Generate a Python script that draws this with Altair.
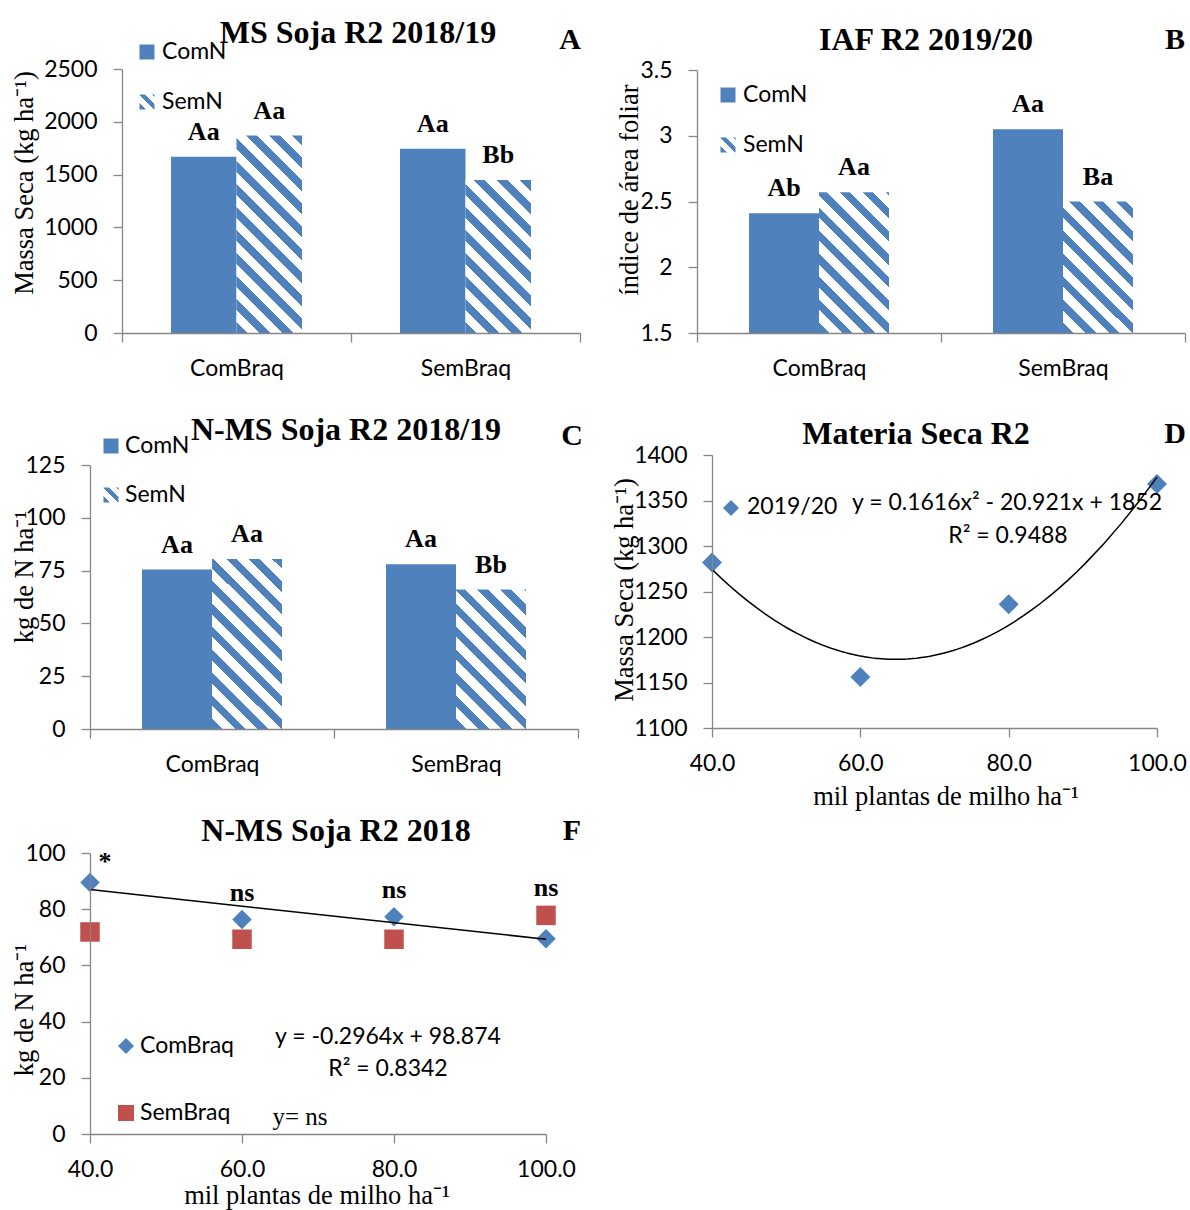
import altair as alt
import pandas as pd

BLUE = "#4F81BD"
RED = "#C0504D"
GRAY = "#868686"
SANS = "Lato"
SERIF = "Liberation Serif"
W, H = 1190, 1210

# ---------------- data ----------------
bar_categories = ["ComBraq", "SemBraq"]
series_names = ["ComN", "SemN"]

a_comn = [1670, 1745]
a_semn = [1870, 1450]
a_lab_comn = ["Aa", "Aa"]
a_lab_semn = ["Aa", "Bb"]
a_ticks = [0, 500, 1000, 1500, 2000, 2500]

b_comn = [2.41, 3.05]
b_semn = [2.57, 2.50]
b_lab_comn = ["Ab", "Aa"]
b_lab_semn = ["Aa", "Ba"]
b_ticks = [1.5, 2, 2.5, 3, 3.5]

c_comn = [75.5, 78.0]
c_semn = [80.5, 66.0]
c_lab_comn = ["Aa", "Aa"]
c_lab_semn = ["Aa", "Bb"]
c_ticks = [0, 25, 50, 75, 100, 125]

d_density = [40, 60, 80, 100]
d_mass = [1282, 1156, 1236, 1368]
d_ticks = [1100, 1150, 1200, 1250, 1300, 1350, 1400]

f_density = [40, 60, 80, 100]
f_combraq = [89.5, 76.3, 77.3, 69.5]
f_sembraq = [71.9, 69.3, 69.3, 77.8]
f_sig = ["*", "ns", "ns", "ns"]
f_ticks = [0, 20, 40, 60, 80, 100]
x_ticks = [40, 60, 80, 100]

ONE = alt.Data(values=[{"k": 1}])

TITLE = 32
LETTER = 30
AXT = 26.5
TICK = 23
LEG = 23
LAB = 26


# ---------------- helpers ----------------
def hatch(w, h, period=23.0, share=0.47):
    """Diagonal '\\' stripes at 45 degrees for a box of w x h pixels."""
    t = (w + h) / (w * w + h * h)
    n = (w + h) / period
    stops = []
    k = 0
    while k < n:
        a = round(k / n, 5)
        b = round(min((k + share) / n, 1.0), 5)
        c = round(min((k + 1) / n, 1.0), 5)
        stops += [{"offset": a, "color": BLUE}, {"offset": b, "color": BLUE}]
        if b < 1:
            stops += [{"offset": b, "color": "#ffffff"}, {"offset": c, "color": "#ffffff"}]
        k += 1
    return {"gradient": "linear", "x1": 0, "y1": 1,
            "x2": round(t * w, 5), "y2": round(1 - t * h, 5), "stops": stops}


def text_at(text, x, y, size, font=SANS, weight="normal", align="left", angle=0):
    return alt.Chart(ONE).mark_text(
        text=text, font=font, fontSize=size, fontWeight=weight, align=align,
        baseline="middle", angle=angle, color="black"
    ).encode(x=alt.value(x), y=alt.value(y))


def symbol_at(x, y, shape, size, fill):
    return alt.Chart(ONE).mark_point(
        shape=shape, size=size, filled=True, fill=fill, opacity=1, strokeWidth=0
    ).encode(x=alt.value(x), y=alt.value(y))


def y_axis(values, left):
    return alt.Axis(values=values, labelExpr="format(datum.value, '~g')", title=None,
                    orient="left", offset=-left, grid=False, zindex=1,
                    domainColor=GRAY, domainWidth=1.3, tickColor=GRAY, tickWidth=1.3,
                    tickSize=9, labelFont=SANS, labelFontSize=TICK, labelColor="black",
                    labelPadding=16, labelOverlap=False, labelFlush=False)


def x_band_axis(bottom):
    return alt.Axis(title=None, orient="bottom", offset=bottom - H, labelAngle=0,
                    tickBand="extent", grid=False, zindex=1,
                    domainColor=GRAY, domainWidth=1.3, tickColor=GRAY, tickWidth=1.3,
                    tickSize=9, labelFont=SANS, labelFontSize=TICK, labelColor="black",
                    labelPadding=15)


def x_lin_axis(bottom):
    return alt.Axis(values=x_ticks, format=".1f", title=None, orient="bottom",
                    offset=bottom - H, grid=False, zindex=1,
                    domainColor=GRAY, domainWidth=1.3, tickColor=GRAY, tickWidth=1.3,
                    tickSize=9, labelFont=SANS, labelFontSize=TICK, labelColor="black",
                    labelPadding=15, labelFlush=False, labelOverlap=False)


def bar_panel(comn, semn, lab_comn, lab_semn, ticks, xr, yr, bar_w, annotations):
    """xr = [left, right] pixels, yr = [bottom, top] pixels of the plot area."""
    ymin, ymax = ticks[0], ticks[-1]
    df = pd.DataFrame({
        "cat": bar_categories * 2,
        "trt": [series_names[0]] * 2 + [series_names[1]] * 2,
        "val": list(comn) + list(semn),
        "lab": list(lab_comn) + list(lab_semn),
    })
    band = (xr[1] - xr[0]) / len(bar_categories)
    pad = (band / bar_w - 2) / 2
    base = alt.Chart(df).encode(
        x=alt.X("cat:N", sort=bar_categories,
                scale=alt.Scale(range=xr, paddingInner=0, paddingOuter=0),
                axis=x_band_axis(yr[0])),
        xOffset=alt.XOffset("trt:N", sort=series_names,
                            scale=alt.Scale(paddingInner=0, paddingOuter=pad)),
        y=alt.Y("val:Q", scale=alt.Scale(domain=[ymin, ymax], range=yr, nice=False, zero=False),
                axis=y_axis(ticks, xr[0])),
    )
    layers = [base.transform_filter(alt.datum.trt == series_names[0])
              .mark_bar(color=BLUE).encode(y2=alt.datum(ymin))]
    for cat, v in zip(bar_categories, semn):
        hp = (v - ymin) / (ymax - ymin) * (yr[0] - yr[1])
        layers.append(
            base.transform_filter((alt.datum.trt == series_names[1]) & (alt.datum.cat == cat))
            .mark_bar(fill=hatch(bar_w, hp)).encode(y2=alt.datum(ymin))
        )
    layers.append(base.mark_text(font=SERIF, fontSize=LAB, fontWeight="bold", dy=-25,
                                 baseline="middle", color="black").encode(text="lab:N"))
    layers += annotations
    return alt.layer(*layers)


# white page (covers any frame line at the canvas edge)
page = alt.Chart(ONE).mark_rect(fill="white", stroke="white", strokeWidth=6).encode(
    x=alt.value(0), x2=alt.value(W), y=alt.value(0), y2=alt.value(H))

# ---------------- panel A ----------------
panel_a = bar_panel(
    a_comn, a_semn, a_lab_comn, a_lab_semn, a_ticks, [122, 580], [333, 69], 65.5,
    [
        text_at("MS Soja R2 2018/19", 358, 33, TITLE, SERIF, "bold", "center"),
        text_at("A", 570, 40, LETTER, SERIF, "bold", "center"),
        symbol_at(147, 52, "square", 225, BLUE),
        text_at("ComN", 162, 52, LEG),
        symbol_at(147, 102, "square", 225, hatch(15, 15, 14)),
        text_at("SemN", 162, 102, LEG),
        text_at("Massa Seca (kg ha\u207b\u00b9)", 25, 183, AXT, SERIF, "normal", "center", 270),
    ],
)

# ---------------- panel B ----------------
panel_b = bar_panel(
    b_comn, b_semn, b_lab_comn, b_lab_semn, b_ticks, [697, 1185], [333, 70], 70,
    [
        text_at("IAF R2 2019/20", 926, 40, TITLE, SERIF, "bold", "center"),
        text_at("B", 1175, 40, LETTER, SERIF, "bold", "center"),
        symbol_at(728, 95, "square", 225, BLUE),
        text_at("ComN", 743, 95, LEG),
        symbol_at(728, 145, "square", 225, hatch(15, 15, 14)),
        text_at("SemN", 743, 145, LEG),
        text_at("índice de área foliar", 630, 190, AXT, SERIF, "normal", "center", 270),
    ],
)

# ---------------- panel C ----------------
panel_c = bar_panel(
    c_comn, c_semn, c_lab_comn, c_lab_semn, c_ticks, [90, 578], [729, 465], 70,
    [
        text_at("N-MS Soja R2 2018/19", 346, 430, TITLE, SERIF, "bold", "center"),
        text_at("C", 572, 436, LETTER, SERIF, "bold", "center"),
        symbol_at(111, 446, "square", 225, BLUE),
        text_at("ComN", 125, 446, LEG),
        symbol_at(111, 495, "square", 225, hatch(15, 15, 14)),
        text_at("SemN", 125, 495, LEG),
        text_at("kg de N ha\u207b\u00b9", 25, 577, AXT, SERIF, "normal", "center", 270),
    ],
)

# ---------------- panel D ----------------
d_df = pd.DataFrame({"x": d_density, "y": d_mass})
d_x = alt.X("x:Q", scale=alt.Scale(domain=[40, 100], range=[712, 1157], nice=False, zero=False),
            axis=x_lin_axis(728))
d_y = alt.Y("y:Q", scale=alt.Scale(domain=[d_ticks[0], d_ticks[-1]], range=[728, 455],
                                   nice=False, zero=False),
            axis=y_axis(d_ticks, 712))
d_points = alt.Chart(d_df).mark_point(shape="diamond", filled=True, size=400, color=BLUE,
                                      opacity=1).encode(x=d_x, y=d_y)
d_fit = alt.Chart(d_df).transform_regression("x", "y", method="poly", order=2).mark_line(
    color="black", strokeWidth=1.5).encode(x=d_x, y=d_y)
panel_d = alt.layer(
    d_points, d_fit,
    text_at("Materia Seca R2", 916, 434, TITLE, SERIF, "bold", "center"),
    text_at("D", 1175, 434, LETTER, SERIF, "bold", "center"),
    symbol_at(731, 508, "diamond", 256, BLUE),
    text_at("2019/20", 747, 507, LEG),
    text_at("y = 0.1616x\u00b2 - 20.921x + 1852", 1007, 503, LEG, SANS, "normal", "center"),
    text_at("R\u00b2 = 0.9488", 1008, 536, LEG, SANS, "normal", "center"),
    text_at("Massa Seca (kg ha\u207b\u00b9)", 625, 590, AXT, SERIF, "normal", "center", 270),
    text_at("mil plantas de milho ha\u207b\u00b9", 946, 797, AXT, SERIF, "normal", "center"),
)

# ---------------- panel F ----------------
f_df = pd.DataFrame({
    "x": f_density * 2,
    "y": f_combraq + f_sembraq,
    "grp": ["ComBraq"] * 4 + ["SemBraq"] * 4,
})
f_lab = pd.DataFrame({
    "x": f_density,
    "y": [max(a, b) for a, b in zip(f_combraq, f_sembraq)],
    "sig": f_sig,
})
f_x = alt.X("x:Q", scale=alt.Scale(domain=[40, 100], range=[90, 546], nice=False, zero=False),
            axis=x_lin_axis(1134))
f_y = alt.Y("y:Q", scale=alt.Scale(domain=[0, 100], range=[1134, 853], nice=False, zero=False),
            axis=y_axis(f_ticks, 90))
f_base = alt.Chart(f_df)
f_com = f_base.transform_filter(alt.datum.grp == "ComBraq").mark_point(
    shape="diamond", filled=True, size=380, color=BLUE, opacity=1).encode(x=f_x, y=f_y)
f_sem = f_base.transform_filter(alt.datum.grp == "SemBraq").mark_point(
    shape="square", filled=True, size=380, color=RED, opacity=1).encode(x=f_x, y=f_y)
f_fit = f_base.transform_filter(alt.datum.grp == "ComBraq").transform_regression(
    "x", "y", method="linear").mark_line(color="black", strokeWidth=1.5).encode(x=f_x, y=f_y)
f_ns = alt.Chart(f_lab).transform_filter(alt.datum.sig == "ns").mark_text(
    font=SERIF, fontSize=LAB, fontWeight="bold", dy=-27, baseline="middle", color="black"
).encode(x=f_x, y=f_y, text="sig:N")
f_star = alt.Chart(f_lab).transform_filter(alt.datum.sig == "*").mark_text(
    font=SERIF, fontSize=LAB, fontWeight="bold", dy=-21, dx=15, baseline="middle", color="black"
).encode(x=f_x, y=f_y, text="sig:N")
panel_f = alt.layer(
    f_com, f_sem, f_fit, f_ns, f_star,
    text_at("N-MS Soja R2 2018", 336, 831, TITLE, SERIF, "bold", "center"),
    text_at("F", 572, 831, LETTER, SERIF, "bold", "center"),
    symbol_at(126, 1046, "diamond", 256, BLUE),
    text_at("ComBraq", 140, 1046, LEG),
    symbol_at(126, 1113, "square", 256, RED),
    text_at("SemBraq", 140, 1113, LEG),
    text_at("y = -0.2964x + 98.874", 388, 1037, LEG, SANS, "normal", "center"),
    text_at("R\u00b2 = 0.8342", 388, 1069, LEG, SANS, "normal", "center"),
    text_at("y= ns", 300, 1117, 25, SERIF, "normal", "center"),
    text_at("kg de N ha\u207b\u00b9", 25, 1010, AXT, SERIF, "normal", "center", 270),
    text_at("mil plantas de milho ha\u207b\u00b9", 317, 1196, AXT, SERIF, "normal", "center"),
)

# ---------------- one canvas, independent scales per panel ----------------
chart = alt.layer(page, panel_a, panel_b, panel_c, panel_d, panel_f).resolve_scale(
    x="independent", y="independent", xOffset="independent"
).resolve_axis(
    x="independent", y="independent"
).properties(
    width=W, height=H,
    autosize=alt.AutoSizeParams(type="none"),
    padding={"left": 0, "top": 0, "right": 0, "bottom": 0},
    background="white",
).configure_view(strokeWidth=0, stroke="transparent", strokeOpacity=0).configure(font=SANS)

chart.save("out.html", embed_options={"renderer": "svg", "actions": False})
